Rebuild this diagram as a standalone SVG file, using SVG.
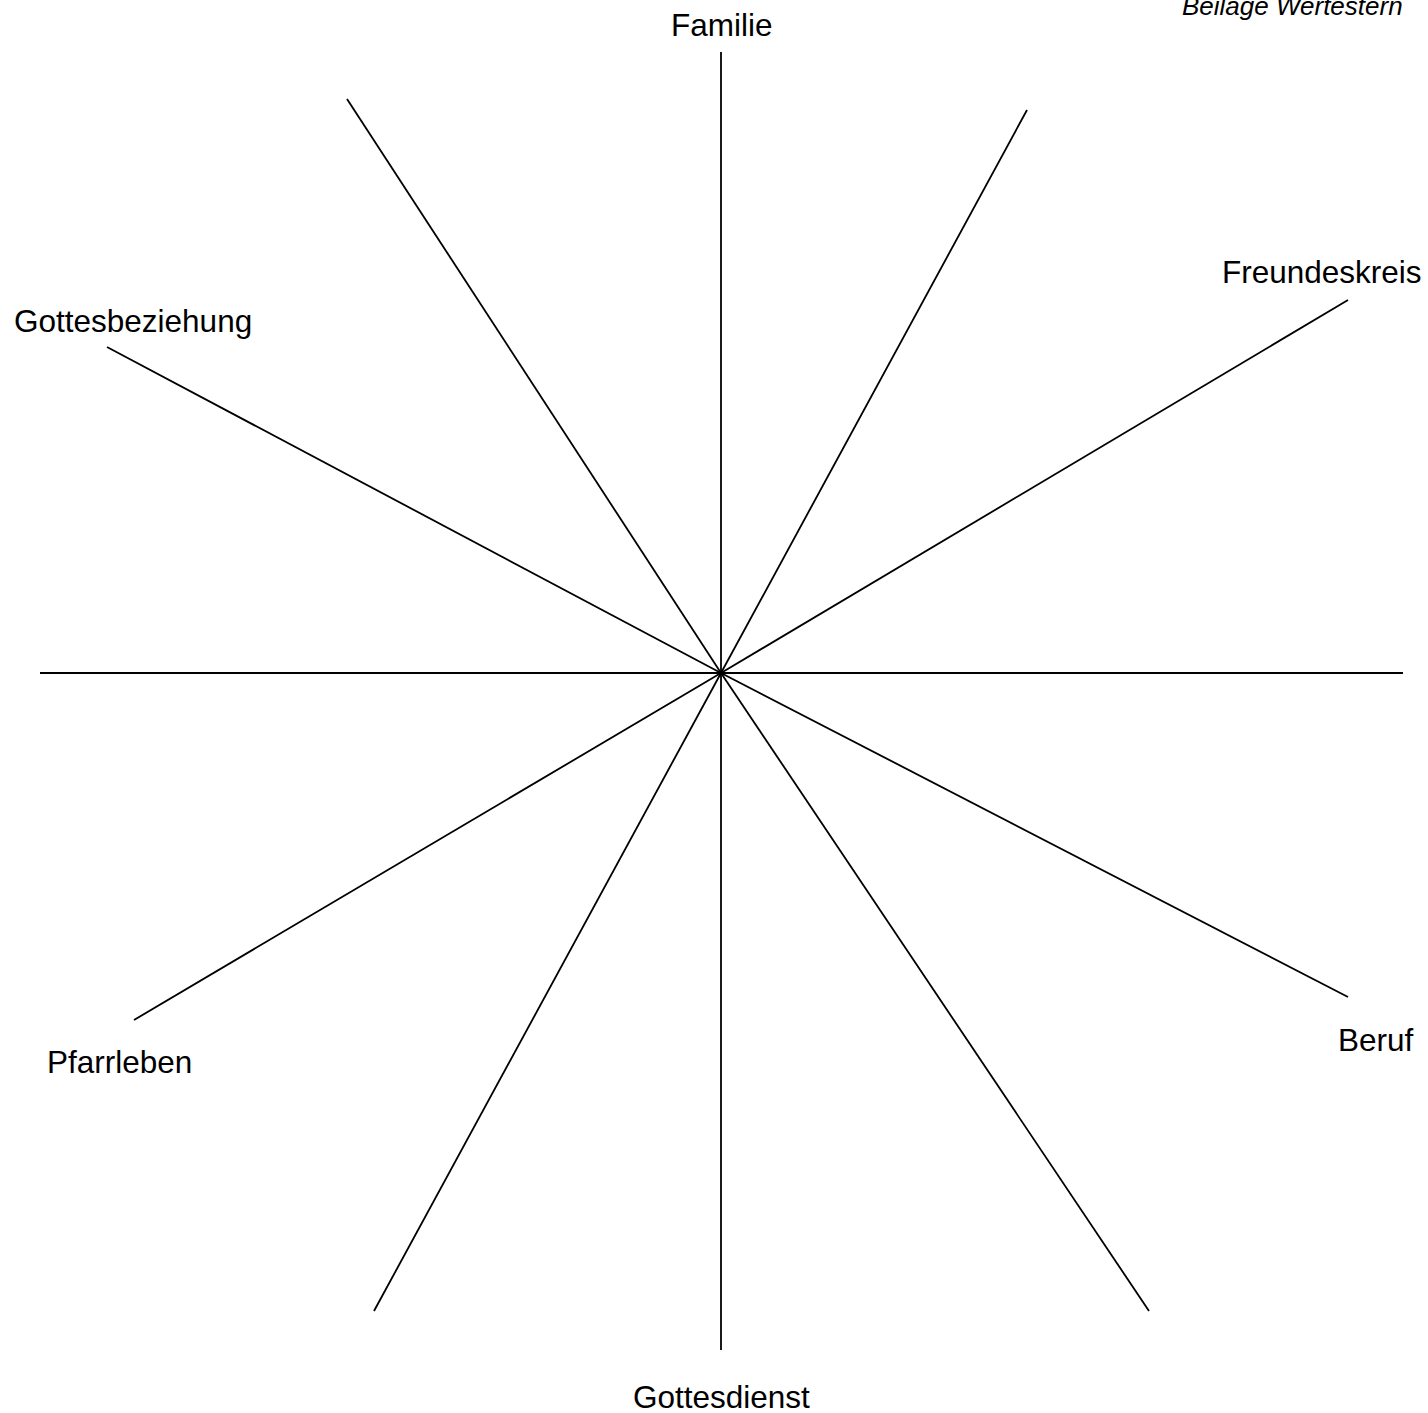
<svg xmlns="http://www.w3.org/2000/svg" width="1428" height="1413" viewBox="0 0 1428 1413">
<style>
.ray{stroke:#000;stroke-width:1.8;fill:none}
.lbl{font-family:"Liberation Sans",Arial,sans-serif;font-size:31.5px;fill:#000}
.note{font-family:"Liberation Sans",Arial,sans-serif;font-size:26px;font-style:italic;fill:#000}
</style>
<rect width="1428" height="1413" fill="#fff"/>
<g id="connectors">
<line class="ray" x1="721" y1="52" x2="721" y2="1350"/>
<line class="ray" x1="40" y1="673" x2="1403" y2="673"/>
<line class="ray" x1="347" y1="99" x2="721" y2="673"/>
<line class="ray" x1="721" y1="673" x2="1149" y2="1311"/>
<line class="ray" x1="1027" y1="110" x2="721" y2="673"/>
<line class="ray" x1="721" y1="673" x2="374" y2="1311"/>
<line class="ray" x1="1348" y1="300" x2="721" y2="673"/>
<line class="ray" x1="721" y1="673" x2="134" y2="1020"/>
<line class="ray" x1="107" y1="347" x2="721" y2="673"/>
<line class="ray" x1="721" y1="673" x2="1348" y2="997"/>
</g>
<g id="note"><text class="note" x="1182" y="15">Beilage Wertestern</text></g>
<g id="familie"><text class="lbl" x="671" y="36">Familie</text></g>
<g id="freundeskreis"><text class="lbl" x="1222" y="283">Freundeskreis</text></g>
<g id="gottesbeziehung"><text class="lbl" x="14" y="332">Gottesbeziehung</text></g>
<g id="beruf"><text class="lbl" x="1338" y="1051">Beruf</text></g>
<g id="pfarrleben"><text class="lbl" x="47" y="1073">Pfarrleben</text></g>
<g id="gottesdienst"><text class="lbl" x="633" y="1408">Gottesdienst</text></g>
</svg>
